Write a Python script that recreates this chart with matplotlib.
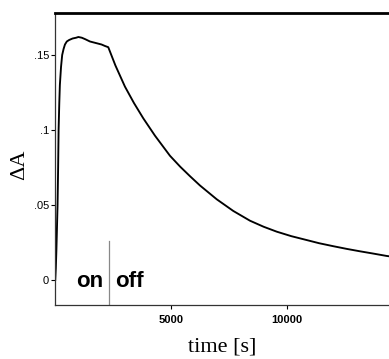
import matplotlib
matplotlib.use("Agg")
import matplotlib.pyplot as plt

# data
time_s = [0, 25, 50, 75, 100, 125, 145, 175, 200, 250, 300, 360, 420, 500, 600, 750,
          900, 1000, 1150, 1300, 1500, 1750, 2000, 2150, 2291,
          2600, 3012, 3400, 3803, 4309, 4957, 5400, 5821, 6253, 6976,
          7693, 8415, 9000, 9569, 10200, 10866, 11400, 12015, 12600, 13169, 13700, 14323, 14420]
delta_a = [0.0, 0.008, 0.02, 0.035, 0.05, 0.075, 0.10, 0.118, 0.13, 0.142, 0.150, 0.154,
           0.157, 0.159, 0.160, 0.161, 0.1615, 0.162, 0.1615, 0.1605, 0.159, 0.158, 0.157,
           0.156, 0.1552,
           0.1430, 0.1289, 0.1180, 0.1078, 0.0962, 0.0828, 0.0755, 0.0692, 0.0630, 0.0538,
           0.0460, 0.0395, 0.0355, 0.0322, 0.0292, 0.0266, 0.0245, 0.0225, 0.0207, 0.0191,
           0.0177, 0.0160, 0.0158]

x_ticks = [5000, 10000]
x_tick_labels = ["5000", "10000"]
y_ticks = [0, 0.05, 0.1, 0.15]
y_tick_labels = ["0", ".05", ".1", ".15"]
switch_time = 2310
switch_top = 0.026

fig = plt.figure(figsize=(3.89, 3.59), dpi=100)
ax = fig.add_axes([0.142, 0.1504, 0.858, 0.8134])

ax.plot(time_s, delta_a, color="black", lw=1.35)
ax.plot([switch_time, switch_time], [-0.02, switch_top], color="#888888", lw=0.9)

ax.set_xlim(0, 14420)
ax.set_ylim(-0.0167, 0.178)

ax.set_xticks(x_ticks)
ax.set_xticklabels(x_tick_labels, fontfamily="Liberation Sans", fontweight="bold", fontsize=8)
ax.set_yticks(y_ticks)
ax.set_yticklabels(y_tick_labels, fontfamily="Liberation Sans", fontsize=8)
ax.tick_params(direction="out", length=3, width=0.8, colors="black")
ax.tick_params(axis="x", pad=4)
ax.tick_params(axis="y", pad=1.5)

ax.spines["right"].set_visible(False)
ax.spines["top"].set_linewidth(2.0)
ax.spines["left"].set_linewidth(0.9)
ax.spines["bottom"].set_linewidth(0.9)
ax.spines["left"].set_color("#333333")
ax.spines["bottom"].set_color("#333333")

ax.set_xlabel("time [s]", fontfamily="Liberation Serif", fontsize=16, labelpad=9)
ax.set_ylabel("ΔA", fontfamily="Liberation Serif", fontsize=16)
ax.yaxis.set_label_coords(-0.078, 0.479)

ax.text(2060, -0.0047, "on", ha="right", va="baseline", fontfamily="Liberation Sans",
        fontweight="bold", fontsize=16)
ax.text(2580, -0.0047, "off", ha="left", va="baseline", fontfamily="Liberation Sans",
        fontweight="bold", fontsize=16)

fig.savefig("out.png", dpi=100)
